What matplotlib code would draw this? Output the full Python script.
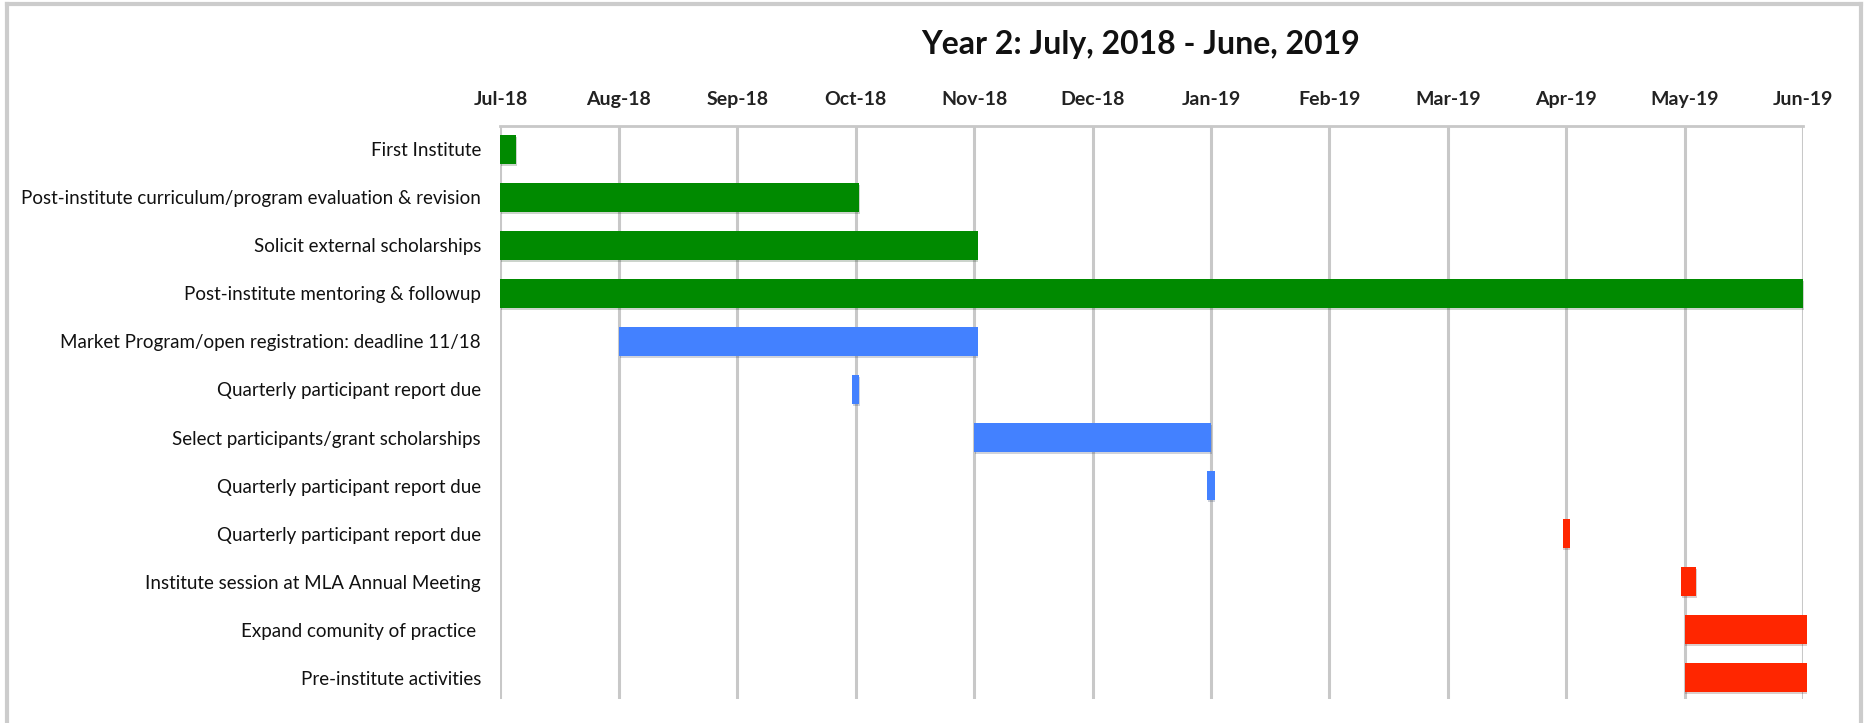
import matplotlib.pyplot as plt
import matplotlib.patheffects as pe
from matplotlib.lines import Line2D

# months are plotted as equally spaced positions, Jul-18 = 0
months = ["Jul-18", "Aug-18", "Sep-18", "Oct-18", "Nov-18", "Dec-18",
          "Jan-19", "Feb-19", "Mar-19", "Apr-19", "May-19", "Jun-19"]

tasks = [
    "First Institute",
    "Post-institute curriculum/program evaluation & revision",
    "Solicit external scholarships",
    "Post-institute mentoring & followup",
    "Market Program/open registration: deadline 11/18",
    "Quarterly participant report due",
    "Select participants/grant scholarships",
    "Quarterly participant report due",
    "Quarterly participant report due",
    "Institute session at MLA Annual Meeting",
    "Expand comunity of practice ",
    "Pre-institute activities",
]
start = [0.0, 0.0, 0.0, 0.0, 1.0, 2.97, 4.0, 5.97, 8.97, 9.97, 10.0, 10.0]
end = [0.135, 3.03, 4.03, 11.0, 4.03, 3.03, 6.0, 6.03, 9.03, 10.1, 11.03, 11.03]
phase = ["post", "post", "post", "post", "recruit", "recruit", "recruit",
         "recruit", "pre", "pre", "pre", "pre"]

phase_colors = {"post": "#008a00", "recruit": "#4381ff", "pre": "#ff2600"}

plt.rcParams['font.family'] = ['Lato', 'DejaVu Sans']

fig = plt.figure(figsize=(18.64, 7.23), dpi=100)
ax = fig.add_axes([0.2685, 0.0332, 0.6988, 0.7925])

rows = list(range(len(tasks)))
widths = [e - s for s, e in zip(start, end)]
bars = ax.barh(rows, widths, left=start, height=0.6,
               color=[phase_colors[p] for p in phase], zorder=3)
for b in bars:
    b.set_clip_on(False)
    b.set_path_effects([pe.SimplePatchShadow(offset=(0.5, -1.5), alpha=0.2),
                        pe.Normal()])

ax.set_xlim(0, len(months) - 1)
ax.set_ylim(len(tasks) - 1 + 0.44, -0.48)

ax.xaxis.tick_top()
ax.set_xticks(range(len(months)))
ax.set_xticklabels(months, fontsize=14, fontweight='bold', color='#222222')
ax.set_yticks(rows)
ax.set_yticklabels(tasks, fontsize=13.5, color='#111111')
ax.tick_params(axis='x', length=0, pad=13)
ax.tick_params(axis='y', length=0, pad=14)

ax.grid(axis='x', color='#c8c8c8', linewidth=2.2, zorder=0)
for s in ['bottom', 'right', 'left']:
    ax.spines[s].set_visible(False)
ax.spines['top'].set_color('#c8c8c8')
ax.spines['top'].set_linewidth(2.0)

fig.text(0.612, 0.938, "Year 2: July, 2018 - June, 2019", ha='center',
         va='center', fontsize=23, fontweight='bold', color='#111111')

# light grey frame around the chart (no bottom edge)
frame = dict(color='#cccccc', linewidth=3, transform=fig.transFigure)
fig.add_artist(Line2D([0.004, 0.004], [0.0, 0.995], **frame))
fig.add_artist(Line2D([0.004, 0.9985], [0.995, 0.995], **frame))
fig.add_artist(Line2D([0.9985, 0.9985], [0.0, 0.995], **frame))

fig.savefig("out.png", dpi=100)
